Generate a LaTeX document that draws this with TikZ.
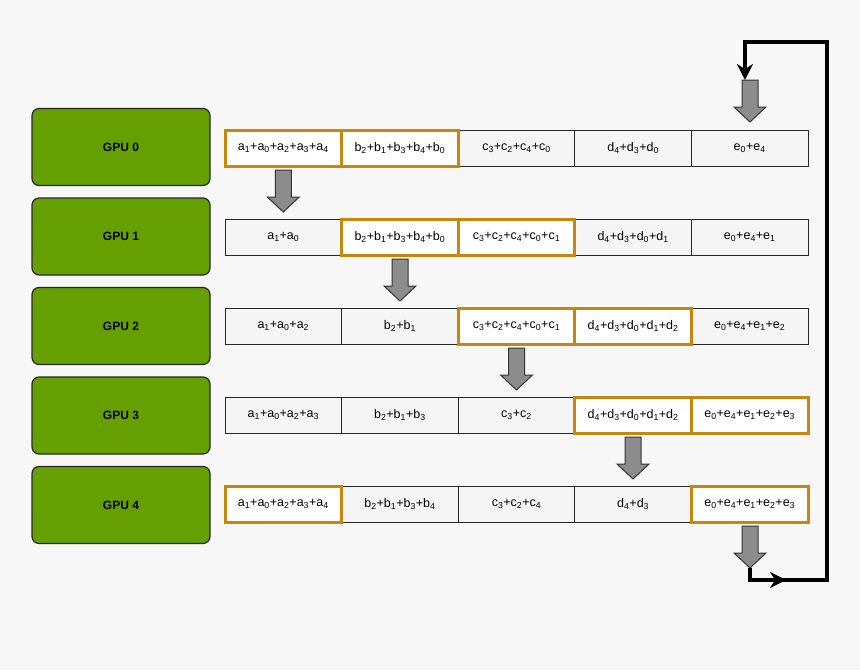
\documentclass[tikz,border=0pt]{standalone}
\usepackage{fontspec}
\setmainfont{Liberation Sans}
\usetikzlibrary{arrows.meta,shapes.arrows}
\newcommand{\sbx}[2]{#1\textsubscript{#2}}
\definecolor{gr}{HTML}{66A000}
\definecolor{hl}{HTML}{C8860A}
\begin{document}
\begin{tikzpicture}[x=1pt,y=-1pt,
 gpu/.style={draw=black!85,line width=1.2pt,fill=gr,rounded corners=7pt,minimum width=178pt,minimum height=77pt,font=\bfseries\fontsize{12}{14}\selectfont},
 cell/.style={draw=black!85,line width=1pt,fill=black!4,minimum width=116.6pt,minimum height=36pt,inner sep=0pt,font=\fontsize{12.5}{14}\selectfont},
 hi/.style={draw=hl,line width=3pt,fill=white},
 garr/.style={draw=black!80,fill=black!45,line width=1pt},
 loop/.style={line width=3.5pt,-{Stealth[length=16pt,width=16pt]}}]
\fill[black!3] (0,0) rectangle (860,670);
\foreach \i in {0,...,4}{
  \node[gpu] (g\i) at (121,147+89.5*\i) {GPU \i};
}
\def\cells{%
{\sbx a1+\sbx a0+\sbx a2+\sbx a3+\sbx a4/1,\sbx b2+\sbx b1+\sbx b3+\sbx b4+\sbx b0/1,\sbx c3+\sbx c2+\sbx c4+\sbx c0/0,\sbx d4+\sbx d3+\sbx d0/0,\sbx e0+\sbx e4/0},%
{\sbx a1+\sbx a0/0,\sbx b2+\sbx b1+\sbx b3+\sbx b4+\sbx b0/1,\sbx c3+\sbx c2+\sbx c4+\sbx c0+\sbx c1/1,\sbx d4+\sbx d3+\sbx d0+\sbx d1/0,\sbx e0+\sbx e4+\sbx e1/0},%
{\sbx a1+\sbx a0+\sbx a2/0,\sbx b2+\sbx b1/0,\sbx c3+\sbx c2+\sbx c4+\sbx c0+\sbx c1/1,\sbx d4+\sbx d3+\sbx d0+\sbx d1+\sbx d2/1,\sbx e0+\sbx e4+\sbx e1+\sbx e2/0},%
{\sbx a1+\sbx a0+\sbx a2+\sbx a3/0,\sbx b2+\sbx b1+\sbx b3/0,\sbx c3+\sbx c2/0,\sbx d4+\sbx d3+\sbx d0+\sbx d1+\sbx d2/1,\sbx e0+\sbx e4+\sbx e1+\sbx e2+\sbx e3/1},%
{\sbx a1+\sbx a0+\sbx a2+\sbx a3+\sbx a4/1,\sbx b2+\sbx b1+\sbx b3+\sbx b4/0,\sbx c3+\sbx c2+\sbx c4/0,\sbx d4+\sbx d3/0,\sbx e0+\sbx e4+\sbx e1+\sbx e2+\sbx e3/1}}
\foreach \row [count=\r from 0] in \cells {
  \foreach \t/\h [count=\c from 0] in \row {
    \ifnum\h=0
      \node[cell] (c\r\c) at (283.3+116.6*\c,148+89*\r) {\t};
    \fi
  }
  \foreach \t/\h [count=\c from 0] in \row {
    \ifnum\h=1
      \node[cell,hi] (c\r\c) at (283.3+116.6*\c,148+89*\r) {\t};
    \fi
  }
}
% gray block arrows
\foreach \x/\y in {283.3/170,400/259,516.5/348,633/437,750/80,750/526}{
  \draw[garr] (\x-8,\y) -- (\x+8,\y) -- (\x+8,\y+27) -- (\x+16,\y+27) -- (\x,\y+42) -- (\x-16,\y+27) -- (\x-8,\y+27) -- cycle;
}
\coordinate (b0) at (750,568);
\coordinate (b1) at (750,580);
\coordinate (b2) at (786,580);
\coordinate (b3) at (778,580);
\coordinate (r0) at (827,580);
\coordinate (r1) at (827,42);
\coordinate (t0) at (745,42);
\coordinate (t1) at (745,80);
\draw[loop] (b0) -- (b1) -- (b2);
\draw[loop] (b3) -- (r0) -- (r1) -- (t0) -- (t1);
\end{tikzpicture}
\end{document}
